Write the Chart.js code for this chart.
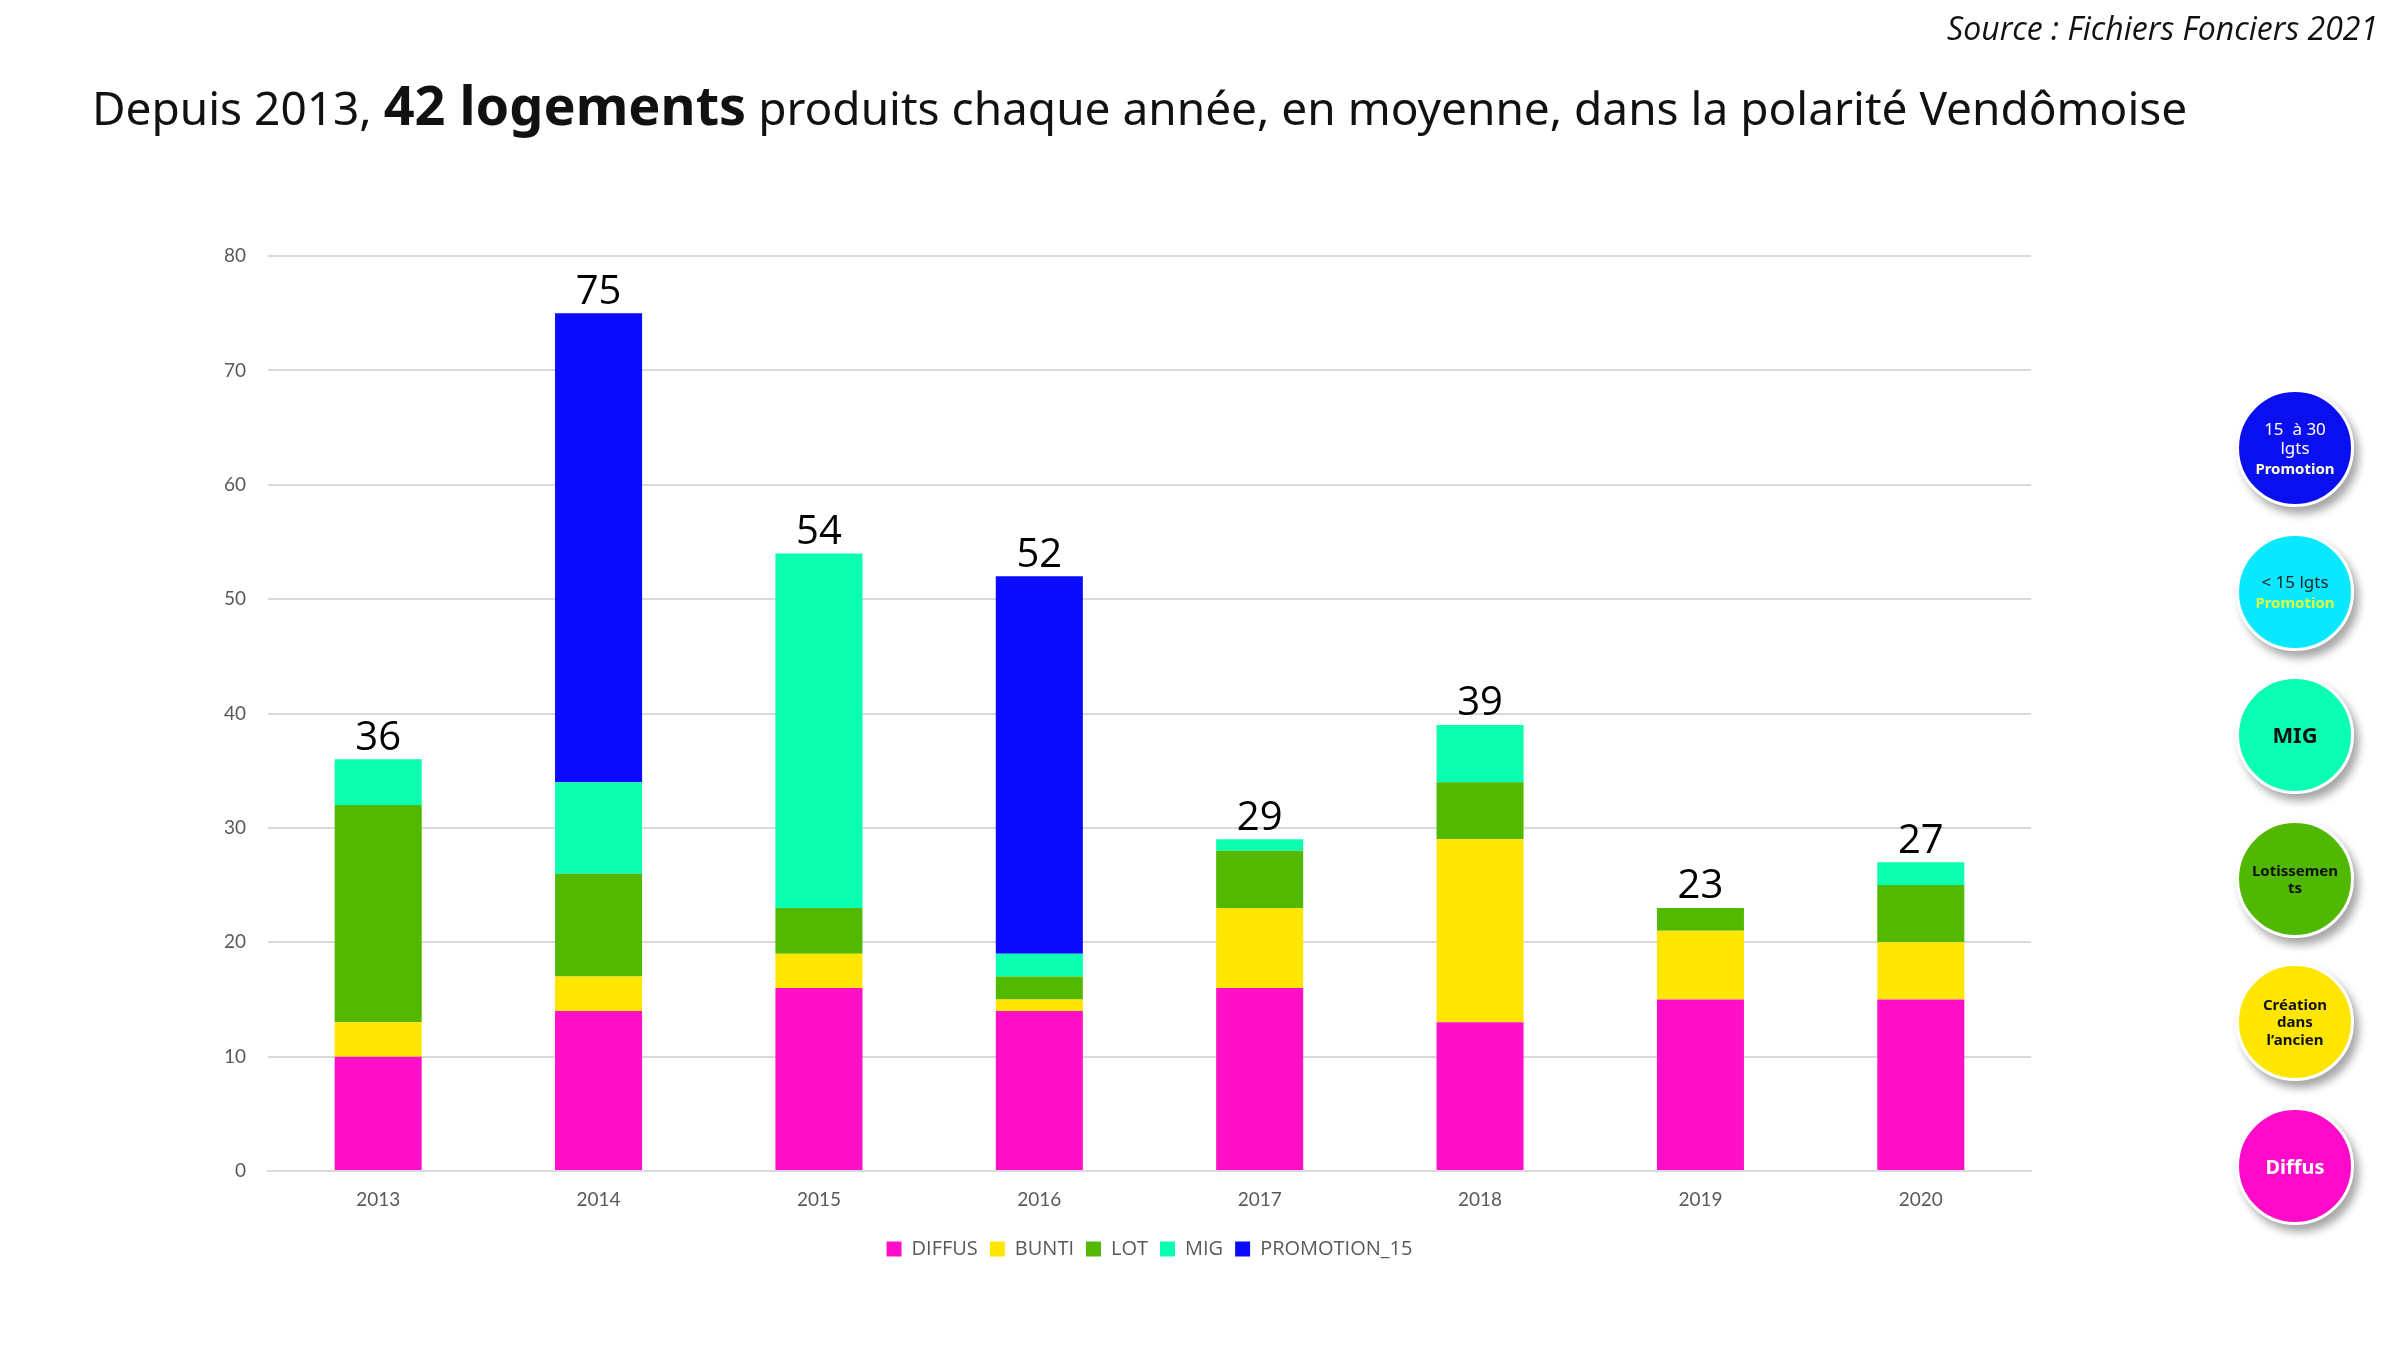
<!DOCTYPE html>
<html><head><meta charset="utf-8">
<script src="https://cdn.jsdelivr.net/npm/chart.js@4.4.1/dist/chart.umd.min.js"></script>
<style>
html,body{margin:0;padding:0;background:#fff;}
#wrap{position:relative;width:2400px;height:1350px;overflow:hidden;}
#c{position:absolute;left:0;top:0;}
#source{position:absolute;right:22px;top:6px;font-family:"Open Sans",sans-serif;font-style:italic;font-size:32px;color:#111;}
#title{position:absolute;left:92px;top:67px;font-family:"Noto Sans",sans-serif;font-size:46px;color:#111;white-space:nowrap;}
#title b{font-size:54px;}
.circ{position:absolute;width:112px;height:112px;border-radius:50%;border:3px solid #fff;box-shadow:5px 7px 8px rgba(0,0,0,0.35);display:flex;align-items:center;justify-content:center;text-align:center;font-family:"Noto Sans",sans-serif;font-weight:bold;line-height:1.15;}
</style></head>
<body><div id="wrap">
<canvas id="c" width="2400" height="1350"></canvas>
<div id="source">Source : Fichiers Fonciers 2021</div>
<div id="title">Depuis 2013, <b>42 logements</b> produits chaque année, en moyenne, dans la polarité Vendômoise</div>
<div class="circ" style="left:2236px;top:389px;background:#0a0ff0;color:#fff;font-size:17px;font-weight:normal;"><div>15&nbsp; à 30<br>lgts<br><span style="color:#ffffc8;font-weight:bold;font-size:15px">Promotion</span></div></div>
<div class="circ" style="left:2236px;top:533px;background:#0ae8ff;color:#222;font-size:17px;font-weight:normal;"><div>&lt; 15 lgts<br><span style="color:#d8ff40;font-weight:bold;font-size:15px">Promotion</span></div></div>
<div class="circ" style="left:2236px;top:676px;background:#0affb4;color:#111;font-size:22px;"><div>MIG</div></div>
<div class="circ" style="left:2236px;top:820px;background:#50b800;color:#111;font-size:15px;"><div>Lotissemen<br>ts</div></div>
<div class="circ" style="left:2236px;top:963px;background:#ffe600;color:#111;font-size:15px;"><div>Création<br>dans<br>l’ancien</div></div>
<div class="circ" style="left:2236px;top:1107px;background:#ff0ac8;color:#fff;font-size:20px;"><div>Diffus</div></div>
</div>
<script>
const categories = ["2013","2014","2015","2016","2017","2018","2019","2020"];
const diffus     = [10, 14, 16, 14, 16, 13, 15, 15];
const bunti      = [3, 3, 3, 1, 7, 16, 6, 5];
const lot        = [19, 9, 4, 2, 5, 5, 2, 5];
const mig        = [4, 8, 31, 2, 1, 5, 0, 2];
const promotion15= [0, 41, 0, 33, 0, 0, 0, 0];
const totals     = [36, 75, 54, 52, 29, 39, 23, 27];

const totalsPlugin = {
  id: 'totals',
  afterDatasetsDraw(chart) {
    const ctx = chart.ctx;
    const y = chart.scales.y, x = chart.scales.x;
    ctx.save();
    ctx.font = '40px "Open Sans", sans-serif';
    ctx.fillStyle = '#000';
    ctx.textAlign = 'center';
    ctx.textBaseline = 'bottom';
    totals.forEach((t, i) => {
      ctx.fillText(String(t), x.getPixelForValue(i), y.getPixelForValue(t) - 1);
    });
    ctx.restore();
  }
};

const ds = (label, data, color) => ({label, data, backgroundColor: color, borderWidth: 0, categoryPercentage: 1, barPercentage: 0.395});

new Chart(document.getElementById('c'), {
  type: 'bar',
  data: {
    labels: categories,
    datasets: [
      ds('DIFFUS', diffus, '#ff10c8'),
      ds('BUNTI', bunti, '#ffe600'),
      ds('LOT', lot, '#52b800'),
      ds('MIG', mig, '#0affb0'),
      ds('PROMOTION_15', promotion15, '#0a0aff')
    ]
  },
  options: {
    responsive: false,
    animation: false,
    layout: {padding: {left: 200, right: 369, top: 256, bottom: 81}},
    plugins: {
      legend: {
        position: 'bottom',
        fullSize: false,
        labels: {boxWidth: 15, boxHeight: 15, padding: 12, color: '#595959', font: {family: '"Open Sans", sans-serif', size: 20}}
      },
      tooltip: {enabled: false}
    },
    scales: {
      x: {
        stacked: true,
        grid: {display: false, drawTicks: false},
        border: {display: true, color: '#d9d9d9', width: 2},
        ticks: {color: '#595959', padding: 17, font: {family: 'Lato, sans-serif', size: 19}},
        afterFit(s) { s.height = 56; }
      },
      y: {
        stacked: true,
        min: 0, max: 80,
        ticks: {stepSize: 10, color: '#595959', padding: 22, font: {family: 'Lato, sans-serif', size: 19}},
        grid: {color: '#d9d9d9', lineWidth: 2, drawTicks: false},
        border: {display: false},
        afterFit(s) { s.width = 68; }
      }
    }
  },
  plugins: [totalsPlugin]
});
</script>
</body></html>
